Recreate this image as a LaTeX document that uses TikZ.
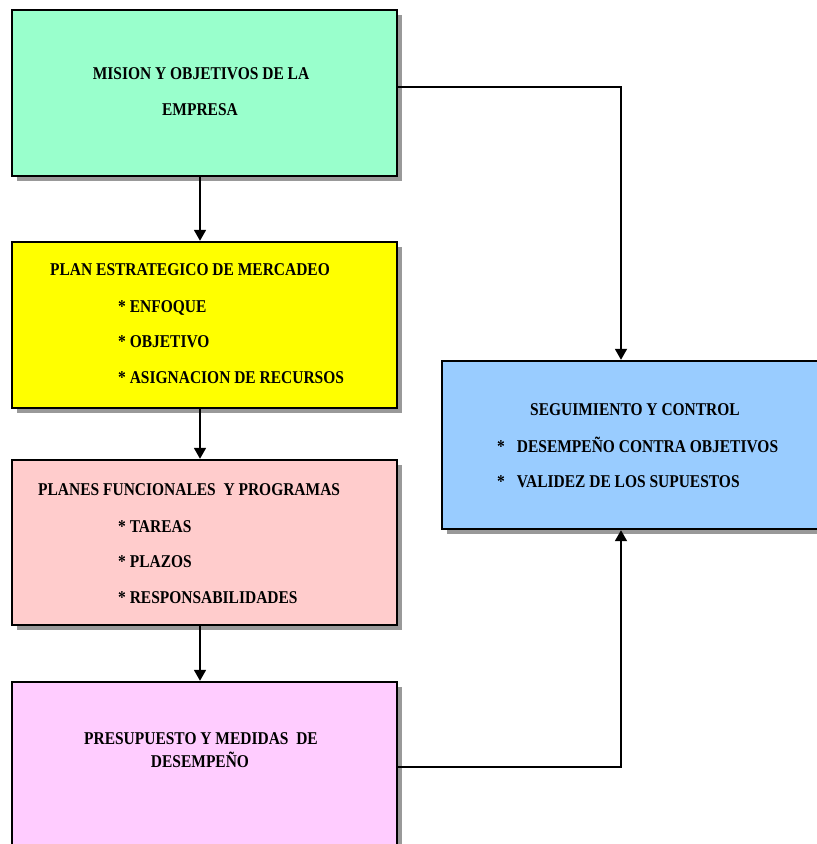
\documentclass[tikz,border=0pt]{standalone}
\usepackage{fontspec}
\setmainfont{Liberation Serif}[FakeStretch=0.86]
\usetikzlibrary{shadows,arrows.meta}
\definecolor{mint}{HTML}{99FFCC}
\definecolor{yel}{HTML}{FFFF00}
\definecolor{rosa}{HTML}{FFCCCC}
\definecolor{lila}{HTML}{FFCCFF}
\definecolor{celeste}{HTML}{99CCFF}
\begin{document}
\begin{tikzpicture}[x=1pt,y=-1pt,
  box/.style={draw=black, line width=2.4pt, minimum width=385pt, inner sep=0pt,
    drop shadow={shadow xshift=4.5pt,shadow yshift=-4.5pt,fill=gray!80,opacity=1}},
  lbl/.style={inner sep=0pt, font=\fontsize{18}{20}\selectfont\bfseries},
  conn/.style={line width=1.8pt},
  arr/.style={conn,-{Triangle[width=12pt,length=11pt]}}]
\useasboundingbox (0,0) rectangle (817,844);
\clip (0,0) rectangle (817,844);
\fill[white] (0,0) rectangle (817,844);
% boxes
\node[box, fill=mint, minimum height=166pt] (A) at (204.5,93) {};
\node[box, fill=yel, minimum height=166pt] (B) at (204.5,325) {};
\node[box, fill=rosa, minimum height=165pt] (C) at (204.5,542.5) {};
\node[box, fill=lila, minimum height=218pt] (D) at (204.5,791) {};
\node[box, fill=celeste, minimum width=388pt, minimum height=168pt] (E) at (636,445) {};
% connectors
\draw[arr] ([xshift=-4.5pt]A.south) -- ([xshift=-4.5pt]B.north);
\draw[arr] ([xshift=-4.5pt]B.south) -- ([xshift=-4.5pt]C.north);
\draw[arr] ([xshift=-4.5pt]C.south) -- ([xshift=-4.5pt]D.north);
\coordinate (k1) at (621,87);
\coordinate (k2) at (621,767);
\draw[arr] (A.east |- k1) -- (k1) -- (k1 |- E.north);
\draw[arr] (D.east |- k2) -- (k2) -- (k2 |- E.south);
% texts
\node[lbl, anchor=base] (a1) at (201,79) {MISION Y OBJETIVOS DE LA};
\node[lbl, anchor=base] (a2) at (200,115) {EMPRESA};
\node[lbl, anchor=base west] (b1) at (50,275) {PLAN ESTRATEGICO DE MERCADEO};
\node[lbl, anchor=base west] (b2) at (118,312) {* ENFOQUE};
\node[lbl, anchor=base west] (b3) at (118,347) {* OBJETIVO};
\node[lbl, anchor=base west] (b4) at (118,383) {* ASIGNACION DE RECURSOS};
\node[lbl, anchor=base west] (c1) at (38,495) {PLANES FUNCIONALES\ \ Y PROGRAMAS};
\node[lbl, anchor=base west] (c2) at (118,532) {* TAREAS};
\node[lbl, anchor=base west] (c3) at (118,567) {* PLAZOS};
\node[lbl, anchor=base west] (c4) at (118,603) {* RESPONSABILIDADES};
\node[lbl, anchor=base] (e1) at (635,415) {SEGUIMIENTO Y CONTROL};
\node[lbl, anchor=base west] (e2) at (497,452) {*\hspace{12pt}DESEMPEÑO CONTRA OBJETIVOS};
\node[lbl, anchor=base west] (e3) at (497,487) {*\hspace{12pt}VALIDEZ DE LOS SUPUESTOS};
\node[lbl, anchor=base] (d1) at (201,744) {PRESUPUESTO Y MEDIDAS\ \ DE};
\node[lbl, anchor=base] (d2) at (200,767) {DESEMPEÑO};
\end{tikzpicture}
\end{document}
